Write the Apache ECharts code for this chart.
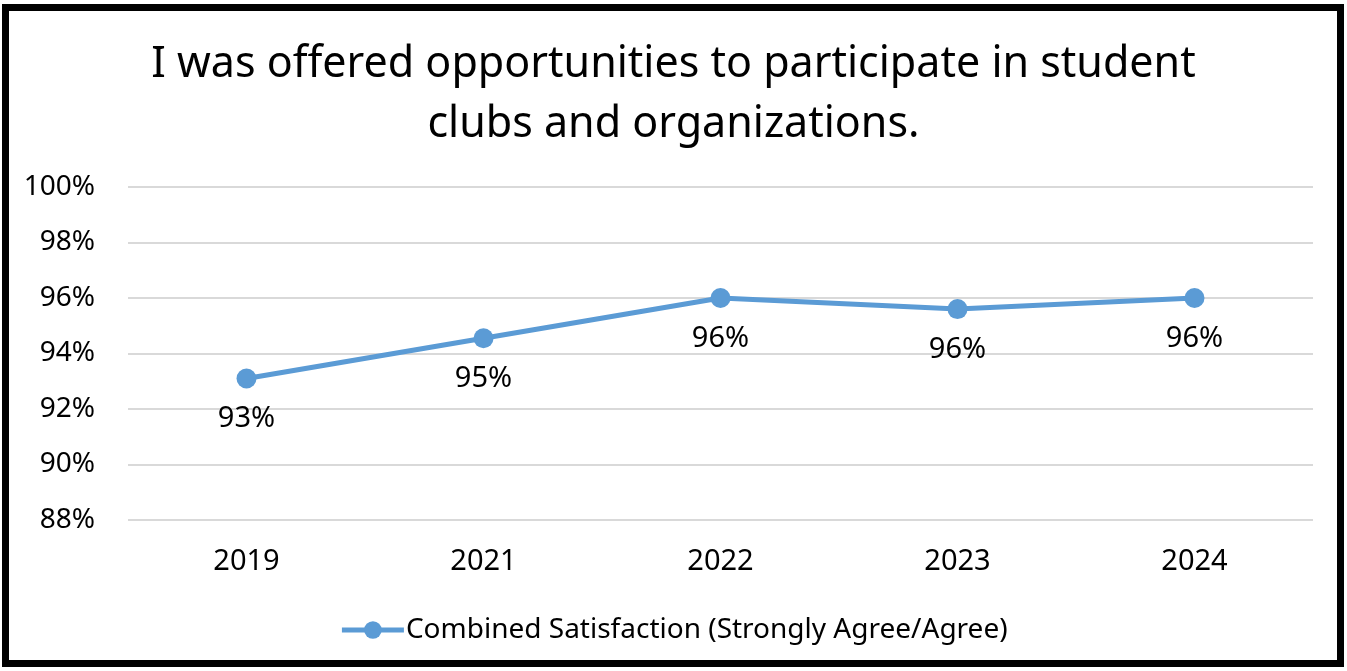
<!DOCTYPE html>
<html>
<head>
<meta charset="utf-8">
<title>Student clubs satisfaction</title>
<script src="https://cdn.jsdelivr.net/npm/echarts@6/dist/echarts.min.js"></script>
<style>
  html, body { margin: 0; padding: 0; background: #fff; }
  #chart { width: 1347px; height: 671px; }
</style>
</head>
<body>
<div id="chart"></div>
<script>
// data
var years = ['2019', '2021', '2022', '2023', '2024']
var satisfaction = [93.1, 94.55, 96.0, 95.6, 96.0]
var seriesName = 'Combined Satisfaction (Strongly Agree/Agree)'
var chartTitle = 'I was offered opportunities to participate in student\nclubs and organizations.'

var font = '"Noto Sans", "Open Sans", sans-serif'
var blue = '#5B9BD5'

var chart = echarts.init(document.getElementById('chart'))
chart.setOption({
  backgroundColor: '#fff',
  textStyle: { fontFamily: font },
  title: {
    text: chartTitle,
    left: 'center',
    top: 30,
    textStyle: {
      fontFamily: font,
      fontSize: 43,
      fontWeight: 'normal',
      color: '#000',
      lineHeight: 60
    }
  },
  graphic: [{
    type: 'rect',
    shape: { x: 5.5, y: 7.5, width: 1335, height: 656 },
    style: { fill: 'none', stroke: '#000', lineWidth: 7 },
    z: 100
  }],
  legend: {
    data: [seriesName],
    bottom: 22,
    left: 'center',
    itemWidth: 62,
    itemHeight: 22,
    itemGap: 10,
    lineStyle: { width: 5 },
    textStyle: { fontFamily: font, fontSize: 28, color: '#000', padding: [0, 0, 0, -3] }
  },
  grid: {
    left: 128,
    right: 34,
    top: 187,
    bottom: 151
  },
  xAxis: {
    type: 'category',
    data: years,
    boundaryGap: true,
    axisLine: { show: false },
    axisTick: { show: false },
    axisLabel: { fontFamily: font, fontSize: 29, color: '#000', margin: 27 }
  },
  yAxis: {
    type: 'value',
    min: 88,
    max: 100,
    interval: 2,
    axisLine: { show: false },
    axisTick: { show: false },
    axisLabel: {
      fontFamily: font,
      fontSize: 28,
      color: '#000',
      margin: 33,
      formatter: function (v) { return v + '%' }
    },
    splitLine: { lineStyle: { color: '#d9d9d9', width: 2 } }
  },
  series: [{
    name: seriesName,
    type: 'line',
    data: satisfaction,
    color: blue,
    symbol: 'circle',
    symbolSize: 20,
    lineStyle: { width: 5, color: blue },
    itemStyle: { color: blue },
    label: {
      show: true,
      position: 'bottom',
      distance: 16,
      fontFamily: font,
      fontSize: 29,
      color: '#000',
      formatter: function (p) { return Math.round(p.value) + '%' }
    }
  }]
})
</script>
</body>
</html>
